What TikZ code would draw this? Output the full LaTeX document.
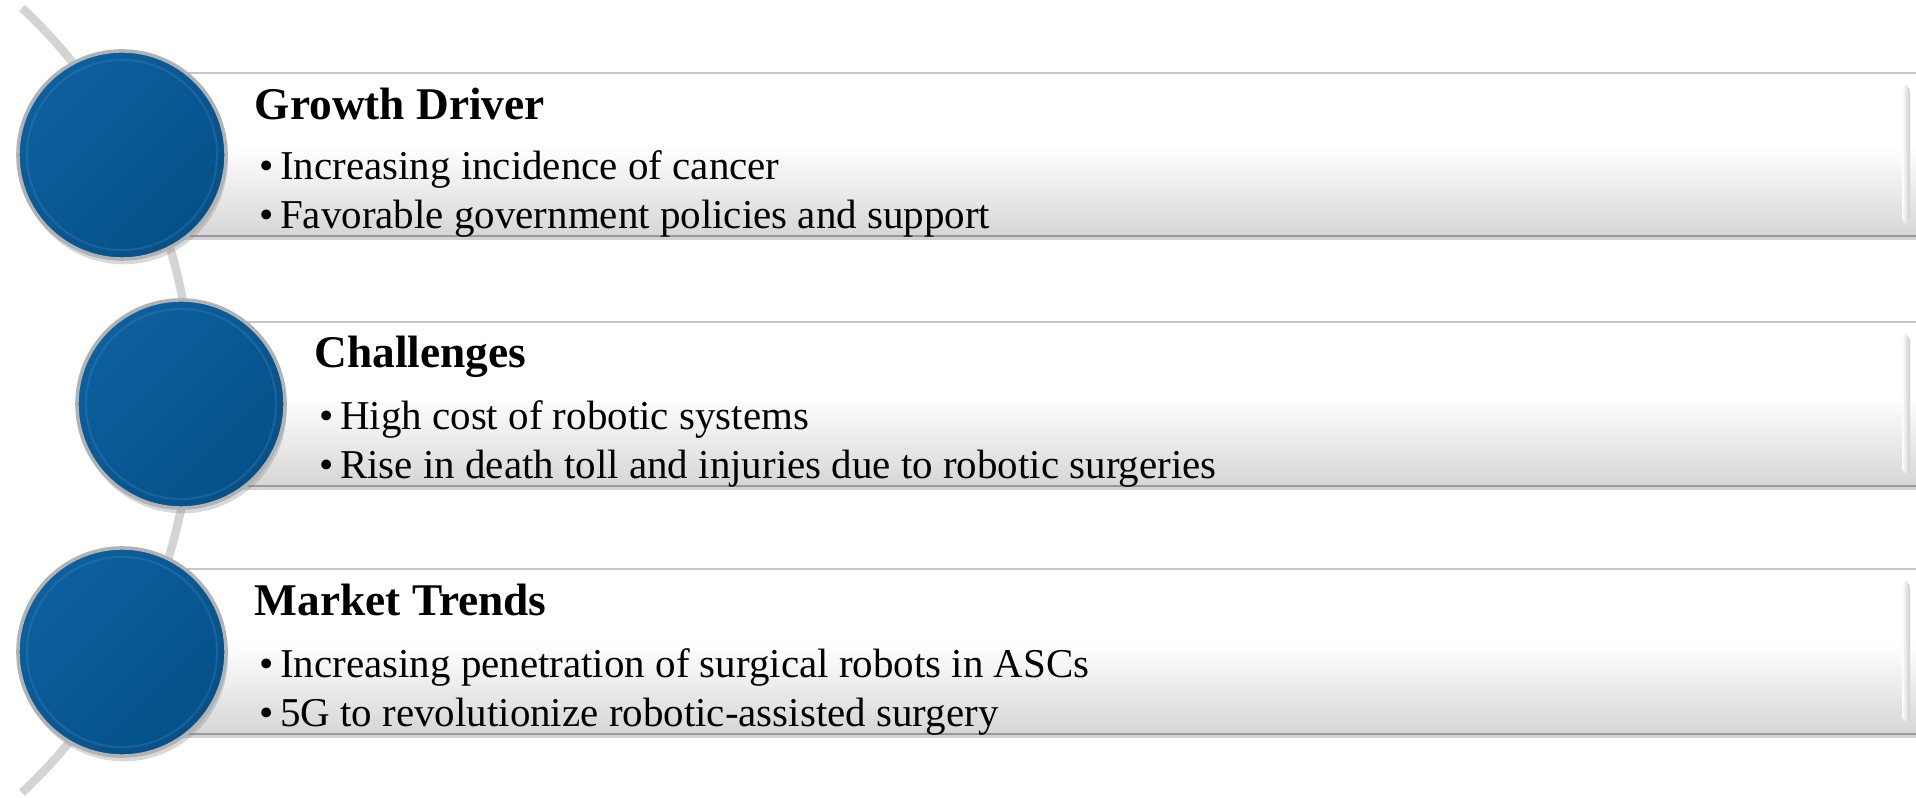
\documentclass[tikz,border=0pt]{standalone}
\usepackage{fontspec}
\setmainfont{Liberation Serif}
\usepackage{tikz}
\usetikzlibrary{shadows}

\definecolor{disclight}{RGB}{12,96,158}
\definecolor{discdark}{RGB}{6,80,136}
\definecolor{arcgray}{RGB}{212,212,212}
\definecolor{barbottom}{RGB}{214,214,214}

\tikzset{
  bar/.style={top color=white, bottom color=barbottom},
  disc/.style={circle, minimum size=2.08cm, inner sep=0pt, anchor=center,
    left color=disclight, right color=discdark, shading angle=45,
    draw=gray!60, line width=1pt,
    drop shadow={opacity=0.3, shadow xshift=0.5pt, shadow yshift=-1.5pt}},
  head/.style={font=\fontsize{12.9}{15}\selectfont\bfseries},
  item/.style={font=\fontsize{11.65}{14}\selectfont}
}
\newcommand{\bul}{\makebox[0.5em][l]{\textbullet}}

\begin{document}
\begin{tikzpicture}[
		x=0.01cm, y=-0.01cm,
		every node/.style={inner sep=0pt, anchor=base west}
	]
  \useasboundingbox (0,0) rectangle (1916,798);
  \clip (0,0) rectangle (1916,798);
  % backbone arc
  \coordinate (a_top) at (22,8);
  \draw[arcgray, line width=2.4pt] (a_top) arc[start angle=46.9, end angle=-46.9, radius=5.37cm];
  % bars
  \foreach \t/\b/\l in {73/236/150, 322/486/210, 569/734/150}{
    \fill[white, drop shadow={opacity=0.35, shadow xshift=0pt, shadow yshift=-1pt}]
      (\l,\t) rectangle (1916,\b);
    \shade[bar] (\l,\t+0.45*\b-0.45*\t) rectangle (1916,\b);
    \shade[left color=white, right color=gray!40, rounded corners=2pt] (1902,\t+12) rectangle (1910,\b-12);
    \draw[gray!45, line width=0.6pt] (\l,\t) -- (1916,\t);
    \draw[gray!80, line width=0.8pt] (\l,\b) -- (1916,\b);
  }
  % discs
  \node (c_1) [disc] at (122,155) {};
  \node (c_2) [disc] at (181,404) {};
  \node (c_3) [disc] at (122,652) {};
  \foreach \c in {c_1, c_2, c_3}
    \draw[disclight!70!white, opacity=0.25, line width=0.6pt] (\c.center) circle[radius=0.95cm];
  % texts
  \node (t_1) [head] at (254,120) {Growth Driver};
  \node (i_11) [item] at (259,180) {\bul Increasing incidence of cancer};
  \node (i_12) [item] at (259,229) {\bul Favorable government policies and support};
  \node (t_2) [head] at (314,368) {Challenges};
  \node (i_21) [item] at (319,430) {\bul High cost of robotic systems};
  \node (i_22) [item] at (319,479) {\bul Rise in death toll and injuries due to robotic surgeries};
  \node (t_3) [head] at (254,616) {Market Trends};
  \node (i_31) [item] at (259,678) {\bul Increasing penetration of surgical robots in ASCs};
  \node (i_32) [item] at (259,727) {\bul 5G to revolutionize robotic-assisted surgery};
\end{tikzpicture}
\end{document}
